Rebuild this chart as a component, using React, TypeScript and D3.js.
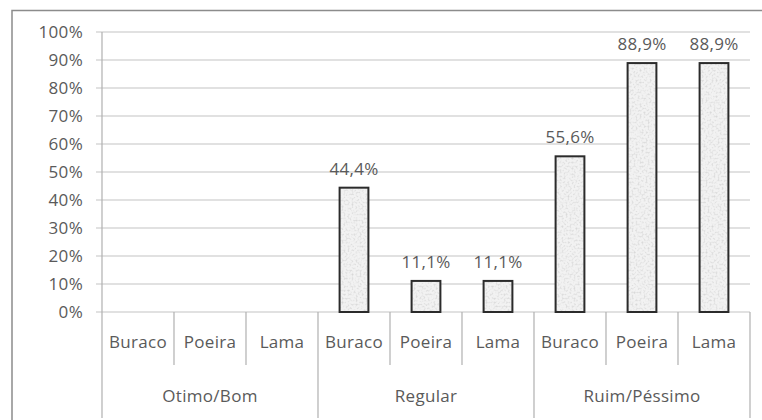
import React from "react";
import * as d3 from "d3";

// Condition groups and the problems rated within each one
const groups = ["Otimo/Bom", "Regular", "Ruim/Péssimo"];
const problems = ["Buraco", "Poeira", "Lama"];

// Share of answers (%) for each problem, per group
const otimoBom = [0, 0, 0];
const regular = [44.4, 11.1, 11.1];
const ruimPessimo = [55.6, 88.9, 88.9];

const yTicks = [0, 10, 20, 30, 40, 50, 60, 70, 80, 90, 100];

const W = 762;
const H = 420;
const left = 102;
const right = 750;
const top = 32;
const bottom = 312;
const subRowEnd = 365;
const groupRowEnd = 418;

const FONT = "'Open Sans', 'Noto Sans', sans-serif";
const TEXT = "#5a5a5a";
const FS = 17;
const LS = 0.3;

const fmtPct = (v: number) => v.toFixed(1).replace(".", ",") + "%";

export default function App() {
  const seriesByGroup = [otimoBom, regular, ruimPessimo];
  const rows = groups.flatMap((g, gi) =>
    problems.map((p, pi) => ({ key: `${g}|${p}`, group: g, gi, problem: p, value: seriesByGroup[gi][pi] }))
  );

  const x = d3.scaleBand<string>().domain(rows.map((r) => r.key)).range([left, right]).padding(0);
  const gx = d3.scaleBand<string>().domain(groups).range([left, right]).padding(0);
  const y = d3.scaleLinear().domain([0, 100]).range([bottom, top]);
  const bw = x.bandwidth() * 0.4;

  return (
    <svg
      width={W}
      height={H}
      style={{ position: "fixed", left: 0, top: 0, background: "#fff" }}
      fontFamily={FONT}
      letterSpacing={LS}
    >
      <defs>
        {/* speckled light-grey fill, clipped to the shape it is applied to */}
        <filter id="grain" x="0" y="0" width="100%" height="100%" colorInterpolationFilters="sRGB">
          <feTurbulence type="fractalNoise" baseFrequency="0.5" numOctaves="2" seed="7" result="n" />
          <feColorMatrix
            in="n"
            type="matrix"
            values="0 0 0 0 0.84  0 0 0 0 0.84  0 0 0 0 0.84  0 0 0 -2.4 1.3"
            result="speck"
          />
          <feFlood floodColor="#f2f2f2" result="bg" />
          <feComposite in="speck" in2="bg" operator="over" result="tex" />
          <feComposite in="tex" in2="SourceGraphic" operator="in" />
        </filter>
      </defs>

      {/* outer frame */}
      <rect x={12} y={10.5} width={W + 20} height={H + 20} fill="#fff" stroke="#8c8c8c" strokeWidth={1.5} />

      {/* gridlines and y labels */}
      {yTicks.map((t) => (
        <g key={t}>
          <line x1={96} x2={right} y1={y(t)} y2={y(t)} stroke="#c4c4c4" strokeWidth={1.2} />
          <text x={83} y={y(t)} dy="0.36em" textAnchor="end" fontSize={FS} fill={TEXT}>
            {t}%
          </text>
        </g>
      ))}

      {/* y axis */}
      <line x1={left} x2={left} y1={top} y2={bottom} stroke="#b0b0b0" strokeWidth={1.2} />

      {/* bars */}
      {rows
        .filter((r) => r.value > 0)
        .map((r) => {
          const cx = (x(r.key) as number) + x.bandwidth() / 2;
          return (
            <g key={r.key}>
              <rect
                x={cx - bw / 2}
                y={y(r.value)}
                width={bw}
                height={bottom - y(r.value)}
                fill="#000"
                filter="url(#grain)"
              />
              <rect
                x={cx - bw / 2}
                y={y(r.value)}
                width={bw}
                height={bottom - y(r.value)}
                fill="none"
                stroke="#2b2b2b"
                strokeWidth={2}
              />
              <text x={cx} y={y(r.value) - 13} textAnchor="middle" fontSize={FS} fill={TEXT}>
                {fmtPct(r.value)}
              </text>
            </g>
          );
        })}

      {/* category axis: problem separators and labels */}
      {rows.map((r, i) => {
        const x0 = x(r.key) as number;
        const isGroupStart = i % 3 === 0;
        return (
          <g key={r.key}>
            <line
              x1={x0}
              x2={x0}
              y1={bottom}
              y2={isGroupStart ? groupRowEnd : subRowEnd}
              stroke="#b0b0b0"
              strokeWidth={1.2}
            />
            <text x={x0 + x.bandwidth() / 2} y={342} dy="0.36em" textAnchor="middle" fontSize={FS} fill={TEXT}>
              {r.problem}
            </text>
          </g>
        );
      })}
      <line x1={right} x2={right} y1={bottom} y2={groupRowEnd} stroke="#b0b0b0" strokeWidth={1.2} />

      {/* group labels */}
      {groups.map((g) => (
        <text
          key={g}
          x={(gx(g) as number) + gx.bandwidth() / 2}
          y={396}
          dy="0.36em"
          textAnchor="middle"
          fontSize={FS}
          fill={TEXT}
        >
          {g}
        </text>
      ))}
    </svg>
  );
}
